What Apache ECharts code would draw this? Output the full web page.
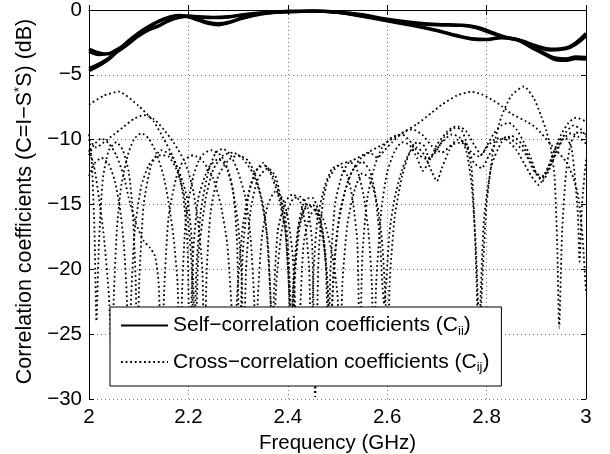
<!DOCTYPE html>
<html>
<head>
<meta charset="utf-8">
<script src="https://cdn.jsdelivr.net/npm/echarts@6/dist/echarts.min.js"></script>
<style>
  html, body { margin: 0; padding: 0; background: #fff; }
  #chart { width: 610px; height: 454px; }
</style>
</head>
<body>
<div id="chart"></div>
<script>
// Frequency axis (GHz) and level axis (dB) ticks
const freqTicks = [2, 2.2, 2.4, 2.6, 2.8, 3];
const dbTicks = [-30, -25, -20, -15, -10, -5, 0];

// Self-correlation coefficients C_ii, [frequency GHz, dB]
const selfA1 = [[2.00,-3.0],[2.02,-3.3],[2.04,-3.4],[2.06,-3.15],[2.08,-2.6],[2.10,-2.0],[2.12,-1.55],[2.14,-1.25],[2.16,-0.85],[2.18,-0.6],[2.20,-0.5],[2.22,-0.55],[2.25,-0.6],[2.28,-0.55],[2.31,-0.4],[2.35,-0.25],[2.40,-0.15],[2.45,-0.1],[2.50,-0.15],[2.55,-0.35],[2.60,-0.7],[2.65,-0.95],[2.70,-1.1],[2.75,-1.15],[2.78,-1.3],[2.81,-1.7],[2.84,-2.1],[2.87,-2.35],[2.90,-2.75],[2.93,-3.0],[2.96,-2.9],[2.98,-2.5],[3.00,-1.8]];
const selfA2 = [[2.00,-3.2],[2.02,-3.45],[2.04,-3.35],[2.06,-2.95],[2.08,-2.45],[2.10,-1.9],[2.12,-1.45],[2.14,-1.2],[2.16,-0.8],[2.18,-0.55],[2.20,-0.45],[2.22,-0.5],[2.25,-0.55],[2.28,-0.5],[2.31,-0.35],[2.35,-0.2],[2.40,-0.1],[2.45,-0.1],[2.50,-0.2],[2.55,-0.45],[2.60,-0.8],[2.65,-1.05],[2.70,-1.15],[2.75,-1.2],[2.78,-1.4],[2.81,-1.8],[2.84,-2.15],[2.87,-2.4],[2.90,-2.85],[2.93,-3.1],[2.96,-3.0],[2.98,-2.65],[3.00,-2.0]];
const selfB1 = [[2.00,-4.7],[2.02,-4.3],[2.04,-3.8],[2.06,-3.1],[2.08,-2.4],[2.10,-1.8],[2.12,-1.3],[2.14,-0.9],[2.16,-0.6],[2.18,-0.45],[2.20,-0.55],[2.22,-0.8],[2.24,-1.05],[2.26,-1.15],[2.28,-1.0],[2.30,-0.75],[2.33,-0.45],[2.36,-0.25],[2.40,-0.15],[2.45,-0.1],[2.50,-0.2],[2.55,-0.5],[2.60,-0.85],[2.65,-1.2],[2.70,-1.6],[2.74,-2.0],[2.77,-2.25],[2.80,-2.3],[2.83,-2.15],[2.86,-2.3],[2.89,-2.9],[2.92,-3.5],[2.94,-3.85],[2.96,-3.9],[2.98,-3.75],[3.00,-3.8]];
const selfB2 = [[2.00,-4.5],[2.02,-4.15],[2.04,-3.7],[2.06,-3.05],[2.08,-2.35],[2.10,-1.75],[2.12,-1.25],[2.14,-0.85],[2.16,-0.55],[2.18,-0.4],[2.20,-0.5],[2.22,-0.7],[2.24,-0.95],[2.26,-1.05],[2.28,-0.95],[2.30,-0.7],[2.33,-0.4],[2.36,-0.2],[2.40,-0.1],[2.45,-0.05],[2.50,-0.15],[2.55,-0.45],[2.60,-0.8],[2.65,-1.15],[2.70,-1.55],[2.74,-1.95],[2.77,-2.2],[2.80,-2.25],[2.83,-2.1],[2.86,-2.25],[2.89,-2.8],[2.92,-3.4],[2.94,-3.7],[2.96,-3.75],[2.98,-3.6],[3.00,-3.65]];

// Cross-correlation coefficients C_ij, [frequency GHz, dB]
const cross1 = [[2.000,-7.3],[2.030,-6.6],[2.060,-6.3],[2.100,-7.4],[2.130,-8.6],[2.150,-9.9],[2.170,-11.4],[2.190,-13.4],[2.200,-15],[2.208,-18.5],[2.214,-27],[2.220,-19],[2.235,-14.5],[2.250,-12.3],[2.270,-11.2],[2.290,-11.0],[2.310,-11.5],[2.330,-12.6],[2.345,-14.3],[2.357,-17],[2.365,-22],[2.370,-27],[2.377,-21],[2.390,-16.5],[2.410,-14.6],[2.425,-14.4],[2.440,-15.3],[2.449,-18],[2.455,-29.8],[2.462,-19],[2.470,-15],[2.480,-13.2],[2.500,-12],[2.530,-11.6],[2.560,-11],[2.590,-10.4],[2.620,-9.7],[2.660,-8.8],[2.690,-7.9],[2.710,-7.3],[2.740,-6.6],[2.770,-6.3],[2.790,-6.5],[2.810,-6.9],[2.830,-7.4],[2.850,-8.0],[2.880,-8.6],[2.900,-9.1],[2.930,-10.4],[2.960,-11.7],[2.975,-13],[2.985,-14.5],[2.993,-17.5],[3.000,-21.7]];
const cross2 = [[2.000,-9.6],[2.006,-12],[2.011,-17],[2.015,-24],[2.020,-18],[2.028,-13],[2.040,-10.8],[2.055,-10.2],[2.068,-10.8],[2.080,-12.5],[2.088,-15.5],[2.094,-21],[2.097,-27],[2.101,-21],[2.110,-15],[2.125,-12],[2.145,-10.8],[2.165,-11.2],[2.180,-12.5],[2.190,-14.5],[2.198,-18],[2.203,-27],[2.209,-19],[2.220,-14.5],[2.240,-12.2],[2.260,-11.5],[2.275,-12],[2.290,-14],[2.298,-18],[2.303,-27],[2.309,-19],[2.320,-14.5],[2.335,-12.5],[2.350,-11.8],[2.365,-12.6],[2.380,-14.2],[2.395,-17],[2.403,-22],[2.407,-27],[2.412,-21],[2.425,-16.5],[2.440,-15],[2.455,-15.5],[2.470,-17.5],[2.480,-21],[2.486,-27],[2.492,-20],[2.505,-15.5],[2.525,-12.8],[2.545,-11.5],[2.565,-11],[2.580,-11.4],[2.595,-10.8],[2.610,-10.2],[2.630,-9.5],[2.650,-9.2],[2.670,-9.6],[2.690,-10.5],[2.710,-11],[2.730,-10.4],[2.750,-10.2],[2.760,-11],[2.770,-13.5],[2.778,-18],[2.783,-23],[2.786,-27],[2.790,-22],[2.800,-15],[2.815,-10.4],[2.830,-8.2],[2.850,-6.6],[2.875,-5.9],[2.895,-6.8],[2.910,-8.2],[2.920,-9.3],[2.930,-10.8],[2.937,-13],[2.942,-18],[2.946,-24.5],[2.952,-17],[2.960,-12.5],[2.970,-10.2],[2.985,-9.4],[3.000,-9.6]];
const cross3 = [[2.000,-10.0],[2.015,-10.6],[2.030,-10.2],[2.050,-9.6],[2.070,-9.0],[2.090,-8.4],[2.110,-8.1],[2.130,-8.4],[2.150,-9.2],[2.170,-10.2],[2.190,-11.5],[2.200,-12.5],[2.210,-14],[2.220,-16.5],[2.228,-20],[2.232,-27],[2.237,-20],[2.245,-15.5],[2.260,-12.8],[2.280,-11.6],[2.300,-11.2],[2.320,-11.6],[2.335,-12.8],[2.350,-15],[2.360,-18],[2.366,-23],[2.369,-27],[2.372,-22],[2.380,-17],[2.395,-14.8],[2.410,-14.2],[2.425,-14.8],[2.435,-16.5],[2.443,-20],[2.447,-27],[2.452,-20],[2.460,-16],[2.475,-13.5],[2.490,-12.2],[2.505,-12.0],[2.520,-12.8],[2.530,-14.5],[2.540,-18],[2.545,-27],[2.550,-19],[2.560,-14.5],[2.575,-12],[2.590,-10.6],[2.610,-9.8],[2.630,-9.6],[2.650,-10.3],[2.665,-11.2],[2.680,-11.5],[2.695,-11],[2.710,-10.2],[2.730,-9.6],[2.745,-9.8],[2.760,-10.6],[2.775,-11.8],[2.790,-12.2],[2.805,-11.2],[2.820,-10.2],[2.840,-9.8],[2.860,-10.3],[2.880,-11.2],[2.895,-12.4],[2.910,-13],[2.925,-12],[2.940,-10.5],[2.955,-9.7],[2.970,-10.5],[2.978,-13],[2.984,-16],[2.987,-19.4],[2.992,-15],[3.000,-11.5]];
const cross4 = [[2.000,-11.2],[2.010,-10.4],[2.025,-9.9],[2.040,-10.3],[2.055,-11.2],[2.070,-12.8],[2.080,-14.5],[2.095,-16.5],[2.110,-17.8],[2.122,-18.3],[2.133,-19],[2.140,-21],[2.146,-27],[2.152,-21],[2.160,-16],[2.175,-13],[2.190,-11.6],[2.210,-11.2],[2.230,-11.7],[2.250,-13],[2.265,-15],[2.278,-18],[2.287,-23],[2.292,-27],[2.298,-22],[2.310,-16.5],[2.325,-13.5],[2.340,-12.2],[2.355,-12],[2.370,-12.8],[2.385,-14.5],[2.395,-17],[2.402,-21],[2.406,-27],[2.411,-21],[2.420,-17],[2.435,-15.2],[2.450,-15],[2.465,-16.2],[2.475,-18.5],[2.482,-23],[2.485,-27],[2.490,-22],[2.500,-17],[2.515,-14],[2.530,-12.4],[2.550,-11.7],[2.565,-12.4],[2.575,-14],[2.585,-17.5],[2.590,-21],[2.594,-22.7],[2.598,-21],[2.605,-17],[2.615,-14.5],[2.630,-12.3],[2.645,-11],[2.660,-10.6],[2.675,-11.2],[2.690,-12.5],[2.700,-13.2],[2.710,-12.2],[2.725,-10.8],[2.740,-10],[2.755,-10.2],[2.770,-11],[2.785,-11.3],[2.800,-10.6],[2.820,-9.9],[2.840,-10],[2.860,-10.8],[2.875,-11.8],[2.890,-12.8],[2.905,-13.5],[2.920,-12.5],[2.935,-11],[2.950,-9.6],[2.965,-8.7],[2.980,-8.3],[3.000,-8.6]];
const cross5 = [[2.000,-12.8],[2.012,-11.8],[2.025,-11.4],[2.040,-11.9],[2.052,-13.2],[2.062,-15.2],[2.070,-18],[2.076,-22],[2.080,-27],[2.085,-22],[2.092,-17],[2.105,-13.6],[2.120,-12],[2.140,-11.2],[2.160,-11.3],[2.175,-12.2],[2.190,-14],[2.200,-16.5],[2.207,-20],[2.211,-27],[2.216,-20],[2.225,-15.5],[2.240,-12.5],[2.255,-11],[2.270,-10.7],[2.285,-11.2],[2.300,-12.5],[2.315,-14.5],[2.325,-17.5],[2.332,-22],[2.336,-27],[2.340,-22],[2.348,-17.5],[2.360,-15],[2.375,-14],[2.390,-14.6],[2.400,-16],[2.410,-19],[2.416,-24],[2.420,-27],[2.425,-23],[2.432,-18],[2.445,-15.8],[2.460,-15.4],[2.475,-16.5],[2.490,-19],[2.500,-22],[2.505,-27],[2.510,-21],[2.520,-16.5],[2.535,-13.8],[2.550,-12.6],[2.565,-13],[2.580,-15],[2.590,-18],[2.597,-22.7],[2.601,-27],[2.605,-21],[2.615,-16],[2.630,-12.8],[2.645,-11],[2.660,-10.2],[2.675,-10.5],[2.685,-11.5],[2.700,-10.8],[2.715,-9.8],[2.730,-9.2],[2.745,-9],[2.760,-9.4],[2.775,-10.4],[2.790,-11.2],[2.800,-10.5],[2.815,-9.5],[2.830,-8.9],[2.845,-8.7],[2.860,-9.2],[2.875,-10.2],[2.890,-11.5],[2.900,-12.6],[2.915,-12.8],[2.930,-11.8],[2.945,-10.5],[2.960,-9.4],[2.975,-8.9],[2.990,-9.2],[3.000,-9.8]];
const cross6 = [[2.000,-10.8],[2.010,-12],[2.020,-14.5],[2.030,-17.5],[2.040,-22],[2.046,-27],[2.050,-22],[2.056,-17],[2.065,-13.5],[2.078,-11.2],[2.090,-10],[2.105,-9.5],[2.120,-9.9],[2.135,-11],[2.150,-12.8],[2.160,-14.8],[2.170,-17.5],[2.178,-21],[2.183,-27],[2.188,-21],[2.195,-16],[2.210,-12.8],[2.225,-11.3],[2.245,-10.8],[2.265,-11.2],[2.280,-12.3],[2.290,-14],[2.300,-16.5],[2.307,-20.5],[2.311,-27],[2.316,-20],[2.325,-15.5],[2.340,-13],[2.360,-12.2],[2.375,-12.8],[2.385,-14.3],[2.395,-16],[2.400,-18],[2.405,-22],[2.409,-27],[2.414,-21],[2.422,-16.5],[2.435,-14.6],[2.450,-14.5],[2.460,-15.3],[2.470,-17],[2.477,-20],[2.481,-27],[2.486,-20],[2.495,-15],[2.510,-12.6],[2.525,-11.7],[2.540,-12.4],[2.552,-14.2],[2.562,-17],[2.569,-21],[2.573,-27],[2.578,-21],[2.588,-15.5],[2.600,-12.5],[2.615,-10.9],[2.630,-10.2],[2.645,-10.4],[2.660,-11.4],[2.672,-12.4],[2.685,-11.6],[2.700,-10.4],[2.720,-9.4],[2.735,-9],[2.750,-9.3],[2.760,-10.3],[2.770,-12.3],[2.775,-16],[2.780,-21],[2.784,-27],[2.788,-22],[2.795,-16],[2.810,-12],[2.830,-10.2],[2.850,-9.7],[2.870,-10.3],[2.885,-11.4],[2.900,-12.6],[2.912,-13.2],[2.925,-12.4],[2.940,-11],[2.955,-9.9],[2.970,-9.5],[2.985,-9.8],[3.000,-10.3]];

const selfName = 'self';
const crossName = 'cross';
const selfCurves = [selfA1, selfA2, selfB1, selfB2];
const crossCurves = [cross1, cross2, cross3, cross4, cross5, cross6];

const FONT = 'Liberation Sans, Arial, Helvetica, sans-serif';
const FS = 20.5;   // axis text
const TFS = 21.5;  // vertical axis title
const LFS = 21;    // legend text
const minus = s => String(s).replace('-', '\u2212');

const chart = echarts.init(document.getElementById('chart'), null, { renderer: 'canvas' });

const series = [];
crossCurves.forEach(d => series.push({
  name: crossName, type: 'line', data: d, showSymbol: false, symbol: 'none',
  smooth: 0.2, clip: true, z: 2,
  itemStyle: { color: '#000' },
  lineStyle: { color: '#000', width: 1.8, type: [1.8, 2.8] }
}));
selfCurves.forEach(d => series.push({
  name: selfName, type: 'line', data: d, showSymbol: false, symbol: 'none',
  smooth: 0.4, clip: true, z: 3,
  itemStyle: { color: '#000' },
  lineStyle: { color: '#000', width: 3, type: 'solid' }
}));

const gridLine = { show: true, lineStyle: { color: '#777', width: 1, type: [1, 3] } };
const boxLine = { show: true, lineStyle: { color: '#000', width: 1 } };
const inTick = { show: true, inside: true, length: 5, lineStyle: { color: '#000' } };

chart.setOption({
  animation: false,
  backgroundColor: '#fff',
  textStyle: { fontFamily: FONT, color: '#000' },
  grid: { left: 89, right: 24, top: 10, bottom: 55, containLabel: false, outerBoundsMode: 'none' },
  legend: {
    data: [selfName, crossName],
    orient: 'vertical',
    left: 110, top: 307,
    padding: [8, 12, 12, 10],
    itemGap: 14,
    itemWidth: 47, itemHeight: 14,
    backgroundColor: '#fff',
    borderColor: '#000', borderWidth: 1,
    selectedMode: false,
    itemStyle: { color: 'rgba(0,0,0,0)', borderWidth: 0, opacity: 0 },
    textStyle: {
      fontFamily: FONT, fontSize: LFS, color: '#000',
      rich: {
        m: { fontFamily: FONT, fontSize: LFS, color: '#000' },
        s: { fontFamily: FONT, fontSize: 13, color: '#000', padding: [11, 0, 0, 0] }
      }
    },
    formatter: n => n === selfName
      ? '{m|Self\u2212correlation coefficients (C}{s|ii}{m|)}'
      : '{m|Cross\u2212correlation coefficients (C}{s|ij}{m|)}'
  },
  xAxis: [{
    type: 'value', min: freqTicks[0], max: freqTicks[freqTicks.length - 1], interval: 0.2,
    name: 'Frequency (GHz)', nameLocation: 'middle', nameGap: 31,
    nameTextStyle: { fontFamily: FONT, fontSize: FS, color: '#000' },
    axisLine: boxLine, axisTick: inTick,
    axisLabel: { fontFamily: FONT, fontSize: FS, color: '#000', margin: 8,
      formatter: v => String(+v.toFixed(1)) },
    splitLine: gridLine
  }, {
    type: 'value', position: 'top', min: 2, max: 3, interval: 0.2,
    axisLine: boxLine, axisTick: inTick,
    axisLabel: { show: false }, splitLine: { show: false }
  }],
  yAxis: [{
    type: 'value', min: dbTicks[0], max: dbTicks[dbTicks.length - 1], interval: 5,
    name: '{t|Correlation coefficients (C=I\u2212S}{u|*}{t|S) (dB)}',
    nameLocation: 'middle', nameGap: 36, nameRotate: 90,
    nameTextStyle: {
      fontFamily: FONT, fontSize: TFS, color: '#000', padding: [0, 0, 0, 6],
      rich: {
        t: { fontFamily: FONT, fontSize: TFS, color: '#000' },
        u: { fontFamily: FONT, fontSize: 13, color: '#000', padding: [0, 0, 11, 0] }
      }
    },
    axisLine: boxLine, axisTick: inTick,
    axisLabel: { fontFamily: FONT, fontSize: FS, color: '#000', margin: 7, formatter: v => minus(v) },
    splitLine: gridLine
  }, {
    type: 'value', position: 'right', min: -30, max: 0, interval: 5,
    axisLine: boxLine, axisTick: inTick,
    axisLabel: { show: false }, splitLine: { show: false }
  }],
  series: series
});
</script>
</body>
</html>
